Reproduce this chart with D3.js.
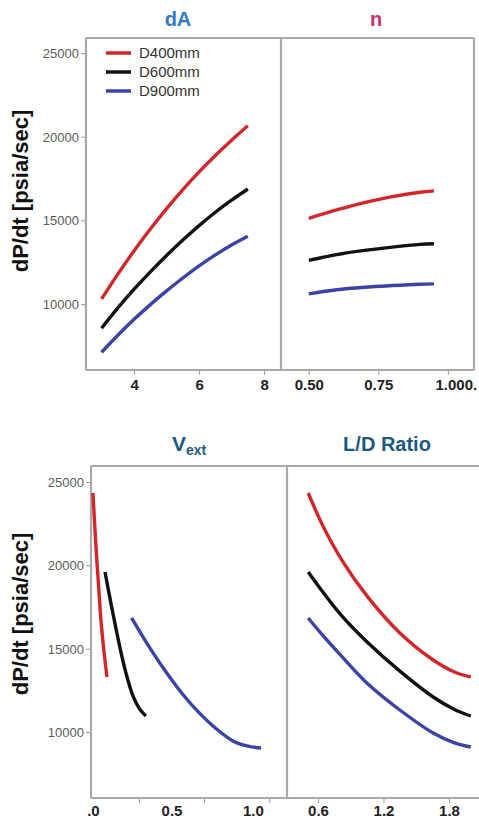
<!DOCTYPE html>
<html>
<head>
<meta charset="utf-8">
<script src="https://cdn.jsdelivr.net/npm/d3@7"></script>
<style>
  body { margin: 0; background: #fff; }
  svg { font-family: Arial, "Liberation Sans", sans-serif; }
</style>
</head>
<body>
<div id="chart"></div>
<script>
// series names
var seriesNames = ['D400mm', 'D600mm', 'D900mm'];

// dA panel
var dA_x = [3, 3.5, 4, 4.5, 5, 5.5, 6, 6.5, 7, 7.5];
var dA_D400 = [10300, 11780, 13180, 14480, 15700, 16840, 17900, 18880, 19790, 20650];
var dA_D600 = [8550, 9760, 10880, 11920, 12900, 13820, 14680, 15480, 16200, 16870];
var dA_D900 = [7110, 8130, 9080, 9960, 10780, 11550, 12270, 12930, 13520, 14040];

// n panel
var n_x = [0.5, 0.6, 0.7, 0.8, 0.9, 0.95];
var n_D400 = [15120, 15620, 16060, 16420, 16680, 16760];
var n_D600 = [12600, 12950, 13200, 13400, 13560, 13600];
var n_D900 = [10600, 10850, 11000, 11100, 11180, 11200];

// Vext panel (each series has its own x range)
var vext_D400_x = [0.018, 0.03, 0.043, 0.055, 0.067, 0.085, 0.104];
var vext_D400 = [24340, 22200, 20140, 18400, 16720, 14900, 13300];
var vext_D600_x = [0.092, 0.12, 0.141, 0.17, 0.2, 0.23, 0.264, 0.3, 0.343];
var vext_D600 = [19600, 18150, 17100, 15700, 14350, 13200, 12150, 11450, 10960];
var vext_D900_x = [0.255, 0.37, 0.47, 0.57, 0.675, 0.78, 0.88, 0.97, 1.05];
var vext_D900 = [16850, 15000, 13550, 12250, 11100, 10150, 9450, 9150, 9040];

// L/D panel
var ld_x = [0.51, 0.65, 0.82, 1.05, 1.35, 1.655, 1.85, 2.0];
var ld_D400 = [24340, 22300, 20300, 18150, 15940, 14320, 13600, 13300];
var ld_D600 = [19600, 18350, 16950, 15400, 13650, 12100, 11350, 10960];
var ld_D900 = [16840, 15750, 14520, 12930, 11320, 9940, 9350, 9100];

// ticks
var yTicks = [10000, 15000, 20000, 25000];
var dA_ticks = [4, 6, 8];
var n_ticks = [0.5, 0.75, 1.0];
var n_tickLabels = ['0.50', '0.75', '1.000.'];
var vext_labelVals = [0.018, 0.5, 1.0];
var vext_tickLabels = ['.0', '0.5', '1.0'];
var vext_minorTicks = [0.3, 0.7, 1.1];
var ld_ticks = [0.6, 1.2, 1.8];

var colors = ['#d3262b', '#111111', '#3a44a6'];
var frameColor = '#a9a9ad';

const width = 479;
const height = 821;

const svg = d3.select('#chart')
    .append('svg')
    .attr('width', width)
    .attr('height', height);

function zipXY(xs, ys) {
    return xs.map(function(x, i) { return {x: x, y: ys[i]}; });
}

// draws a y axis + frame for a row
function drawRow(yScale, left, right, top, bottom, divider, labelY) {
    var g = svg.append('g');
    // frame lines
    g.append('line').attr('x1', left).attr('x2', right).attr('y1', top).attr('y2', top);
    g.append('line').attr('x1', left).attr('x2', right).attr('y1', bottom).attr('y2', bottom);
    g.append('line').attr('x1', left).attr('x2', left).attr('y1', top).attr('y2', bottom);
    g.append('line').attr('x1', divider).attr('x2', divider).attr('y1', top).attr('y2', bottom);
    if (right < width) {
        g.append('line').attr('x1', right).attr('x2', right).attr('y1', top).attr('y2', bottom);
    }
    g.selectAll('line')
        .attr('stroke', frameColor)
        .attr('stroke-width', 2.2);

    var yAxis = svg.append('g')
        .attr('transform', 'translate(' + (left - 1) + ',0)')
        .call(d3.axisLeft(yScale).tickValues(yTicks).tickSize(4).tickFormat(d3.format('d')));
    yAxis.select('.domain').remove();
    yAxis.selectAll('line').attr('stroke', '#999');
    yAxis.selectAll('text')
        .attr('fill', '#5a5a5a')
        .attr('font-size', 13)
        .attr('x', -6)
        .attr('dy', '0.35em');

    svg.append('text')
        .attr('transform', 'translate(28,' + labelY + ') rotate(-90)')
        .attr('text-anchor', 'middle')
        .attr('font-size', 22)
        .attr('font-weight', 'bold')
        .attr('fill', '#111')
        .text('dP/dt [psia/sec]');
}

function drawXAxis(xScale, bottom, values, labels, labelY) {
    var ax = svg.append('g')
        .attr('transform', 'translate(0,' + (bottom + 1) + ')')
        .call(d3.axisBottom(xScale).tickValues(values).tickSize(4)
            .tickFormat(function(d, i) { return labels[i]; }));
    ax.select('.domain').remove();
    ax.selectAll('line').attr('stroke', '#999');
    ax.selectAll('text')
        .attr('font-size', 15)
        .attr('font-weight', 'bold')
        .attr('fill', '#222')
        .attr('y', labelY)
        .attr('dy', 0);
    return ax;
}

function drawLines(xScale, yScale, seriesList) {
    var line = d3.line()
        .x(function(d) { return xScale(d.x); })
        .y(function(d) { return yScale(d.y); })
        .curve(d3.curveCatmullRom.alpha(0.5));
    seriesList.forEach(function(s, i) {
        svg.append('path')
            .datum(s)
            .attr('fill', 'none')
            .attr('stroke', colors[i])
            .attr('stroke-width', 3.4)
            .attr('stroke-linecap', 'butt')
            .attr('d', line);
    });
}

// ---------- top row ----------
var yTop = d3.scaleLinear().domain([6050, 25900]).range([370, 38]);
var xdA = d3.scaleLinear().domain([2.52, 8.52]).range([86, 281]);
var xn = d3.scaleLinear().domain([0.4, 1.094]).range([281, 474]);

drawRow(yTop, 86, 474, 38, 370, 281, 191);

drawXAxis(xdA, 370, dA_ticks, ['4', '6', '8'], 19);
var nAx = drawXAxis(xn, 370, n_ticks, n_tickLabels, 19);
nAx.selectAll('text').filter(function(d, i) { return i === 2; }).attr('dx', 8);

drawLines(xdA, yTop, [zipXY(dA_x, dA_D400), zipXY(dA_x, dA_D600), zipXY(dA_x, dA_D900)]);
drawLines(xn, yTop, [zipXY(n_x, n_D400), zipXY(n_x, n_D600), zipXY(n_x, n_D900)]);

// titles
svg.append('text').attr('x', 178).attr('y', 26).attr('text-anchor', 'middle')
    .attr('font-size', 20).attr('font-weight', 'bold').attr('fill', '#2f7cc4').text('dA');
svg.append('text').attr('x', 376).attr('y', 26).attr('text-anchor', 'middle')
    .attr('font-size', 20).attr('font-weight', 'bold').attr('fill', '#c8316f').text('n');

// legend
var legend = svg.append('g').attr('transform', 'translate(106,53)');
seriesNames.forEach(function(name, i) {
    legend.append('line')
        .attr('x1', 0).attr('x2', 25)
        .attr('y1', i * 19).attr('y2', i * 19)
        .attr('stroke', colors[i]).attr('stroke-width', 3.5);
    legend.append('text')
        .attr('x', 33).attr('y', i * 19).attr('dy', '0.35em')
        .attr('font-size', 15).attr('fill', '#333')
        .text(name);
});

// ---------- bottom row ----------
var yBot = d3.scaleLinear().domain([6040, 25960]).range([798, 466]);
var xv = d3.scaleLinear().domain([0.006, 1.209]).range([91, 287]);
var xld = d3.scaleLinear().domain([0.316, 2.075]).range([287, 479]);

drawRow(yBot, 91, 482, 466, 798, 287, 614);

var vAx = drawXAxis(xv, 798, vext_labelVals, vext_tickLabels, 17);
vAx.selectAll('line').remove();
var vMinor = svg.append('g')
    .attr('transform', 'translate(0,799)')
    .call(d3.axisBottom(xv).tickValues(vext_minorTicks).tickSize(4).tickFormat(''));
vMinor.select('.domain').remove();
vMinor.selectAll('line').attr('stroke', '#999');

drawXAxis(xld, 798, ld_ticks, ['0.6', '1.2', '1.8'], 17);

drawLines(xv, yBot, [zipXY(vext_D400_x, vext_D400), zipXY(vext_D600_x, vext_D600), zipXY(vext_D900_x, vext_D900)]);
drawLines(xld, yBot, [zipXY(ld_x, ld_D400), zipXY(ld_x, ld_D600), zipXY(ld_x, ld_D900)]);

var vt = svg.append('text').attr('x', 172).attr('y', 451)
    .attr('font-size', 21).attr('font-weight', 'bold').attr('fill', '#1d5a80');
vt.append('tspan').text('V');
vt.append('tspan').attr('font-size', 14).attr('dy', 4).text('ext');
svg.append('text').attr('x', 387).attr('y', 451).attr('text-anchor', 'middle')
    .attr('font-size', 20).attr('font-weight', 'bold').attr('fill', '#1d5a80').text('L/D Ratio');
</script>
</body>
</html>
